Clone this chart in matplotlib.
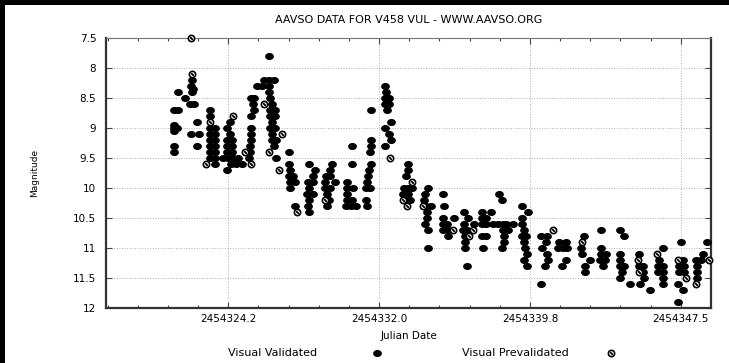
import matplotlib
matplotlib.use("Agg")
import numpy as np
import matplotlib.pyplot as plt
from matplotlib.path import Path
from matplotlib.transforms import Affine2D
from matplotlib.lines import Line2D
from matplotlib.patches import Rectangle
from matplotlib.ticker import FixedLocator, FuncFormatter

JD0 = 2454000.0

# visual validated estimates: (JD - 2454000, magnitude)
valid = [
    (321.46, 8.7), (321.46, 8.95), (321.46, 9.0), (321.46, 9.05), (321.46, 9.3), (321.46, 9.4),
    (321.66, 8.4), (321.66, 8.7), (321.62, 9.0),
    (322.02, 8.5),
    (322.38, 8.2), (322.32, 8.3), (322.45, 8.35), (322.4, 8.4), (322.3, 8.6), (322.5, 8.6),
    (322.32, 9.1), (322.63, 8.9), (322.63, 9.3), (322.73, 9.1),
    (323.31, 8.7), (323.31, 8.8), (323.31, 9.0), (323.31, 9.1), (323.31, 9.2), (323.31, 9.3),
    (323.31, 9.4), (323.31, 9.5), (323.57, 9.6),
    (323.57, 9.0), (323.57, 9.1), (323.57, 9.2), (323.57, 9.3), (323.57, 9.4), (323.57, 9.5),
    (324.35, 8.9), (324.2, 9.0), (324.35, 9.1), (324.2, 9.2), (324.45, 9.2), (324.2, 9.3),
    (324.45, 9.3), (324.2, 9.4), (324.45, 9.4), (324.0, 9.5), (324.25, 9.5), (324.5, 9.5),
    (324.75, 9.5), (324.4, 9.6), (324.65, 9.6), (324.2, 9.7),
    (325.4, 8.5), (325.55, 8.5), (325.5, 8.6), (325.55, 8.7), (325.4, 8.8), (325.4, 9.0),
    (325.4, 9.1), (325.4, 9.2), (325.35, 9.3), (325.35, 9.4), (325.3, 9.5), (324.95, 9.6),
    (325.73, 8.3), (325.98, 8.3),
    (326.35, 7.8), (326.1, 8.2), (326.35, 8.2), (326.6, 8.2), (326.35, 8.3), (326.35, 8.4),
    (326.4, 8.5), (326.5, 8.6), (326.4, 8.7), (326.65, 8.7), (326.4, 8.8), (326.65, 8.8),
    (326.5, 8.9), (326.4, 9.0), (326.65, 9.0), (326.5, 9.1), (326.5, 9.2), (326.7, 9.2),
    (326.6, 9.3), (326.7, 9.5),
    (327.35, 9.4), (327.35, 9.6), (327.4, 9.7), (327.35, 9.8), (327.6, 9.8), (327.4, 9.9),
    (327.7, 9.9), (327.4, 10.0), (327.7, 10.3),
    (328.4, 9.6), (328.7, 9.7), (328.6, 9.8), (328.35, 9.9), (328.6, 9.9), (328.4, 10.0),
    (328.3, 10.1), (328.6, 10.1), (328.4, 10.2), (328.35, 10.3), (328.4, 10.4),
    (329.6, 9.6), (329.5, 9.7), (329.25, 9.8), (329.5, 9.8), (329.2, 9.9), (329.75, 9.9),
    (329.2, 10.0), (329.5, 10.0), (329.3, 10.1), (329.45, 10.2), (329.3, 10.3),
    (330.6, 9.3), (330.6, 9.6), (330.35, 9.9), (330.35, 10.0), (330.65, 10.0), (330.35, 10.1),
    (330.35, 10.2), (330.6, 10.2), (330.3, 10.3), (330.55, 10.3), (330.8, 10.3),
    (331.6, 8.7), (331.6, 9.2), (331.6, 9.3), (331.55, 9.4), (331.6, 9.6), (331.5, 9.7),
    (331.45, 9.8), (331.4, 9.9), (331.35, 10.0), (331.55, 10.0), (331.35, 10.2), (331.4, 10.3),
    (332.3, 8.3), (332.35, 8.4), (332.3, 8.5), (332.5, 8.5), (332.4, 8.55), (332.3, 8.6),
    (332.5, 8.6), (332.4, 8.7), (332.6, 8.9), (332.3, 9.0), (332.5, 9.1), (332.6, 9.2),
    (332.3, 9.3),
    (333.5, 9.6), (333.5, 9.7), (333.4, 9.8), (333.3, 10.0), (333.5, 10.0), (333.7, 10.0),
    (333.25, 10.1), (333.5, 10.1), (333.4, 10.2), (333.6, 10.2),
    (334.5, 10.0), (334.35, 10.1), (334.3, 10.2), (334.4, 10.3), (334.65, 10.3), (334.45, 10.4),
    (334.45, 10.5), (334.35, 10.6), (334.5, 10.7), (334.5, 11.0),
    (335.3, 10.1), (335.35, 10.3), (335.3, 10.5), (335.85, 10.5), (335.3, 10.6), (335.5, 10.6),
    (335.3, 10.7), (335.55, 10.7), (335.55, 10.8),
    (336.35, 10.4), (336.55, 10.5), (336.35, 10.6), (336.9, 10.6), (336.3, 10.7), (336.5, 10.7),
    (336.4, 10.8), (336.4, 10.9), (336.4, 11.0), (336.5, 11.3),
    (337.3, 10.4), (337.75, 10.4), (337.3, 10.5), (337.5, 10.5), (337.3, 10.6), (337.5, 10.6),
    (337.85, 10.6), (337.3, 10.8), (337.5, 10.8), (337.35, 11.0),
    (338.15, 10.1), (338.3, 10.2), (338.1, 10.6), (338.35, 10.6), (338.5, 10.6), (338.35, 10.7),
    (338.6, 10.7), (338.4, 10.8), (338.4, 10.9), (338.3, 11.0), (338.9, 10.6),
    (339.35, 10.3), (339.65, 10.4), (339.35, 10.5), (339.35, 10.6), (339.45, 10.7), (339.35, 10.8),
    (339.55, 10.8), (339.45, 10.9), (339.5, 11.0), (339.6, 11.1), (339.45, 11.2), (339.6, 11.3),
    (340.3, 10.8), (340.6, 10.8), (340.55, 10.9), (340.35, 11.0), (340.6, 11.1), (340.7, 11.2),
    (340.5, 11.3), (340.3, 11.6),
    (341.25, 10.9), (341.6, 10.9), (341.2, 11.0), (341.45, 11.0), (341.65, 11.0), (341.6, 11.2),
    (341.4, 11.3),
    (342.55, 10.8), (342.35, 11.0), (342.4, 11.1), (342.85, 11.2), (342.6, 11.3), (342.6, 11.4),
    (343.4, 10.7), (343.4, 11.0), (343.4, 11.1), (343.65, 11.1), (343.35, 11.2), (343.6, 11.2),
    (343.5, 11.3),
    (344.35, 10.7), (344.6, 10.8), (344.35, 11.1), (344.35, 11.2), (344.4, 11.3), (344.6, 11.3),
    (344.5, 11.4), (344.4, 11.5), (344.9, 11.6),
    (345.35, 11.1), (345.35, 11.3), (345.55, 11.3), (345.55, 11.4), (345.6, 11.5), (345.4, 11.6),
    (345.9, 11.7),
    (346.6, 11.0), (346.4, 11.2), (346.35, 11.3), (346.6, 11.3), (346.35, 11.4), (346.6, 11.4),
    (346.6, 11.5), (346.6, 11.6),
    (347.5, 10.9), (347.6, 11.2), (347.4, 11.3), (347.65, 11.3), (347.4, 11.4), (347.65, 11.4),
    (347.35, 11.6), (347.6, 11.7), (347.35, 11.9),
    (348.85, 10.9), (348.65, 11.1), (348.3, 11.2), (348.55, 11.2), (348.35, 11.3), (348.35, 11.4),
    (348.35, 11.5),
]

# visual prevalidated estimates
preval = [
    (322.32, 7.5), (322.38, 8.1), (323.31, 8.9), (323.1, 9.6), (324.48, 8.8),
    (325.1, 9.4), (325.4, 9.6), (326.1, 8.6), (326.34, 9.4), (327.0, 9.1), (326.86, 9.7),
    (327.8, 10.4), (329.2, 10.2), (332.55, 9.5), (333.7, 9.9), (333.45, 10.3), (333.25, 10.2),
    (334.25, 10.3), (335.8, 10.7), (336.8, 10.7), (336.6, 10.8), (340.95, 10.7), (342.4, 10.9),
    (345.3, 11.2), (345.35, 11.4), (346.3, 11.1), (347.35, 11.2), (347.75, 11.5),
    (348.3, 11.6), (348.95, 11.2),
]

x_ticks = [324.25, 332.0, 339.75, 347.5]
y_ticks = np.arange(7.5, 12.01, 0.5)

W, H = 729, 363
fig = plt.figure(figsize=(W / 100, H / 100), dpi=100, facecolor='black')
fig.add_artist(Rectangle((5 / W, 0), 1, 1 - 5 / H, transform=fig.transFigure,
                         facecolor='white', edgecolor='none', zorder=-10))

ax = fig.add_axes([106 / W, 1 - 308 / H, (711 - 106) / W, (308 - 38) / H])
ax.set_zorder(1)
ax.set_facecolor('white')

ell = Path.unit_circle().transformed(Affine2D().scale(1.3, 1.0))

vx = np.array([p[0] for p in valid]) + JD0
vy = np.array([p[1] for p in valid])
px = np.array([p[0] for p in preval]) + JD0
py = np.array([p[1] for p in preval])

ax.plot(vx, vy, ls='none', marker=ell, ms=5.3, color='black', zorder=3, clip_on=False)
ax.plot(px, py, ls='none', marker='o', ms=4.5, mfc='white', mec='black', mew=1.2,
        zorder=4, clip_on=False)
ax.plot(px, py, ls='none', marker=(2, 2, 45), ms=2.3, mec='black', mew=0.9,
        zorder=5, clip_on=False)

ax.set_xlim(317.97 + JD0, 349.05 + JD0)
ax.set_ylim(12, 7.5)

xt = [t + JD0 for t in x_ticks]
ax.xaxis.set_major_locator(FixedLocator(xt))
ax.xaxis.set_minor_locator(FixedLocator(np.arange(xt[0] - 4 * 1.55, 349.05 + JD0, 1.55)))
ax.xaxis.set_major_formatter(FuncFormatter(lambda v, p: f"{v:.1f}"))
ax.set_yticks(y_ticks)
ax.yaxis.set_major_formatter(FuncFormatter(lambda v, p: f"{v:g}"))

ax.grid(True, which='major', ls=':', color='#b0b0b0', lw=0.7)
ax.tick_params(which='both', direction='in', top=True, right=True, colors='#444444',
               labelcolor='black', labelsize=7.5)
ax.tick_params(which='major', length=4, width=0.8)
ax.tick_params(which='minor', length=2.5, width=0.8)
ax.tick_params(axis='y', pad=7)
ax.tick_params(axis='x', pad=4)

for side in ['left', 'bottom', 'right']:
    ax.spines[side].set_linewidth(1.6)
    ax.spines[side].set_color('#333333')
ax.spines['top'].set_linewidth(0.8)
ax.spines['top'].set_color('#777777')

fig.text(408.5 / W, 1 - 20 / H, 'AAVSO DATA FOR V458 VUL - WWW.AAVSO.ORG',
         ha='center', va='center', fontsize=8)
fig.text(35 / W, 1 - 173 / H, 'Magnitude', rotation=90, ha='center', va='center', fontsize=6.5)
fig.text(408.5 / W, 1 - 336 / H, 'Julian Date', ha='center', va='center', fontsize=7.5)

# legend row
fig.text(273 / W, 1 - 353 / H, 'Visual Validated', ha='center', va='center', fontsize=8)
fig.text(515 / W, 1 - 353 / H, 'Visual Prevalidated', ha='center', va='center', fontsize=8)
fig.add_artist(Line2D([377 / W], [1 - 353 / H], transform=fig.transFigure, ls='none',
                      marker=ell, ms=5.3, color='black'))
fig.add_artist(Line2D([611 / W], [1 - 353 / H], transform=fig.transFigure, ls='none',
                      marker='o', ms=4.5, mfc='white', mec='black', mew=1.2))
fig.add_artist(Line2D([611 / W], [1 - 353 / H], transform=fig.transFigure, ls='none',
                      marker=(2, 2, 45), ms=2.3, mec='black', mew=0.9))

fig.savefig('out.png', dpi=100, facecolor=fig.get_facecolor())
